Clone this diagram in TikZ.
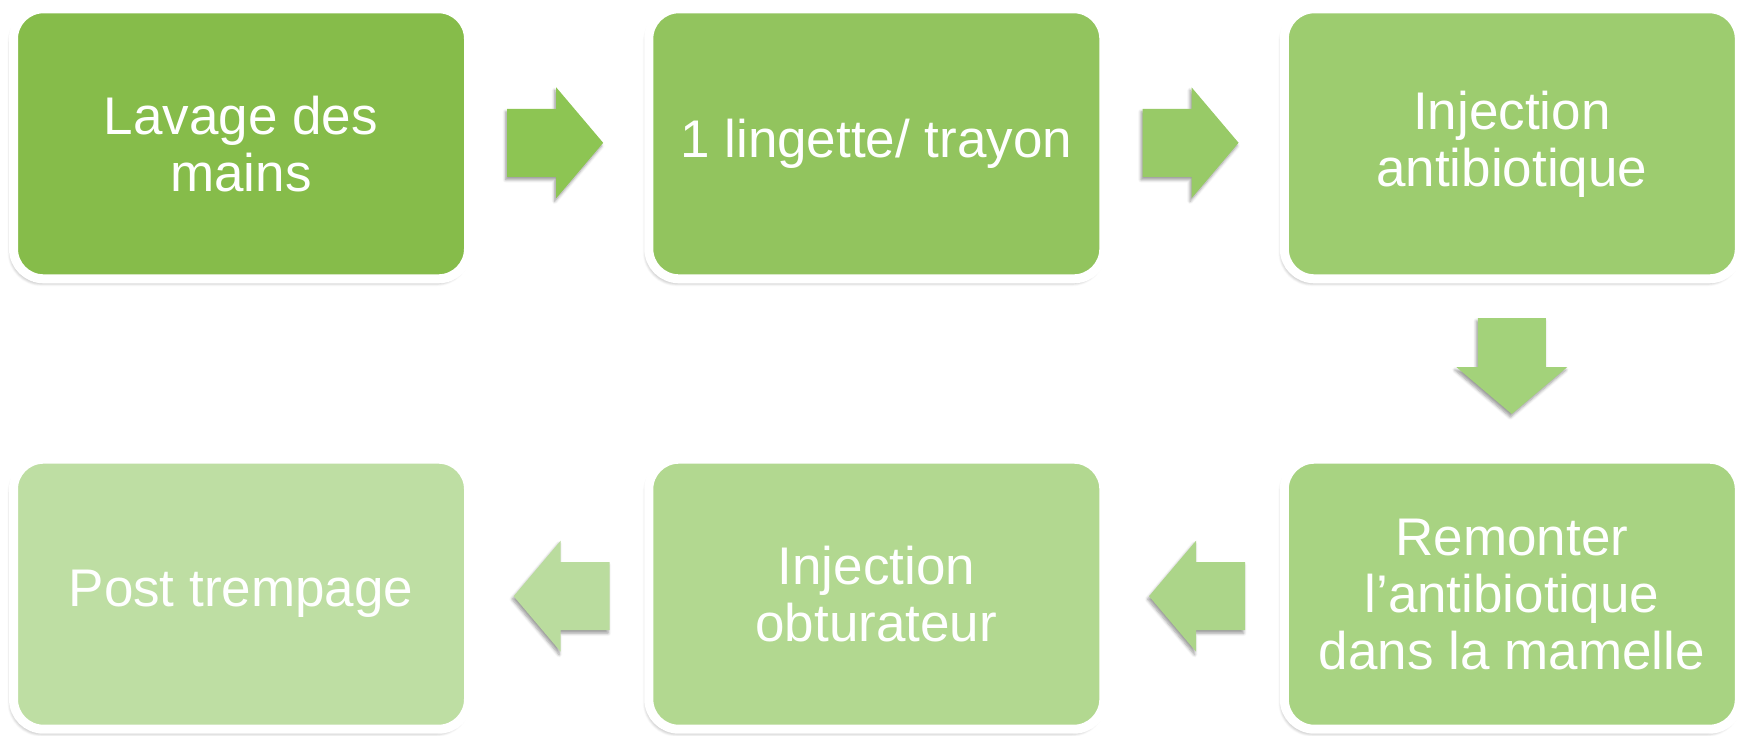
\documentclass[tikz,border=0pt]{standalone}
\usepackage{fontspec}
\setmainfont{Liberation Sans}
\usetikzlibrary{shadows.blur,calc}
\definecolor{cA}{RGB}{134,188,74}
\definecolor{cB}{RGB}{146,196,94}
\definecolor{cC}{RGB}{157,204,111}
\definecolor{cF}{RGB}{168,211,130}
\definecolor{cE}{RGB}{178,216,144}
\definecolor{cD}{RGB}{190,222,163}
\definecolor{aA}{RGB}{141,197,83}
\definecolor{aB}{RGB}{152,202,103}
\definecolor{aC}{RGB}{163,210,122}
\definecolor{aD}{RGB}{172,213,137}
\definecolor{aE}{RGB}{186,220,158}
\begin{document}
\begin{tikzpicture}[x=1pt,y=-1pt,
  stepbox/.style={rectangle, rounded corners=30pt, draw=white, line width=9pt,
    minimum width=455pt, minimum height=270pt, inner sep=0pt, text=white, align=center,
    font=\fontsize{53}{57}\selectfont,
    blur shadow={shadow xshift=-2pt, shadow yshift=-3.5pt, shadow blur radius=4pt,
      shadow blur steps=6, shadow opacity=45}},
  blockarrow/.pic={\fill[pic actions, blur shadow={shadow xshift=-1.5pt, shadow yshift=-3pt,
      shadow blur radius=3pt, shadow blur steps=5, shadow opacity=40}]
    (-48,-34) -- (1,-34) -- (1,-55.5) -- (48,0) -- (1,55.5) -- (1,34) -- (-48,34) -- cycle;}
]
\useasboundingbox (0,0) rectangle (1748,736);
\node[stepbox, fill=cA] (b1) at (241,143.8) {Lavage des\\mains};
\node[stepbox, fill=cB] (b2) at (876.3,143.8) {1 lingette/ trayon};
\node[stepbox, fill=cC] (b3) at (1511.8,143.8) {Injection\\antibiotique};
\node[stepbox, fill=cF] (b6) at (1511.8,594.2) {Remonter\\l’antibiotique\\dans la mamelle};
\node[stepbox, fill=cE] (b5) at (876.3,594.2) {Injection\\obturateur};
\node[stepbox, fill=cD] (b4) at (241,594.2) {Post trempage};
\coordinate (a1) at ($(b1.east)!0.5!(b2.west)+(-3.5,-1)$);
\coordinate (a2) at ($(b2.east)!0.5!(b3.west)+(-3.5,-1)$);
\coordinate (a3) at ($(b3.south)!0.5!(b6.north)+(0,-3)$);
\coordinate (a4) at ($(b6.west)!0.5!(b5.east)+(3,2)$);
\coordinate (a5) at ($(b5.west)!0.5!(b4.east)+(3,2)$);
\pic[fill=aA] at (a1) {blockarrow};
\pic[fill=aB] at (a2) {blockarrow};
\pic[fill=aC, rotate=-90] at (a3) {blockarrow};
\pic[fill=aD, rotate=180] at (a4) {blockarrow};
\pic[fill=aE, rotate=180] at (a5) {blockarrow};
\end{tikzpicture}
\end{document}
